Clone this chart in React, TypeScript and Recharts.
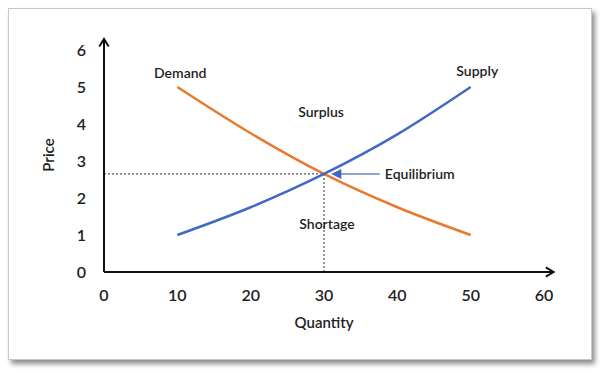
import { LineChart, Line, XAxis, YAxis, ReferenceLine, ReferenceDot } from "recharts";

const quantities = [10, 20, 30, 40, 50];
const supply = [1, 1.75, 2.65, 3.72, 5];
const demand = [5, 3.75, 2.65, 1.75, 1];
const xTicks = [0, 10, 20, 30, 40, 50, 60];
const yTicks = [0, 1, 2, 3, 4, 5, 6];
const equilibrium = { q: 30, p: 2.65 };
const notes = [
  { text: "Demand", q: 10.4, p: 5.4, anchor: "middle" },
  { text: "Supply", q: 50.9, p: 5.45, anchor: "middle" },
  { text: "Surplus", q: 29.6, p: 4.35, anchor: "middle" },
  { text: "Shortage", q: 30.4, p: 1.32, anchor: "middle" },
  { text: "Equilibrium", q: 38.3, p: 2.65, anchor: "start" },
];

const FONT = "Lato, 'Open Sans', sans-serif";
const INK = "#1e1e1e";
const WEIGHT = 600;

const data = quantities.map((q, i) => ({ q, supply: supply[i], demand: demand[i] }));

function AxisArrow(p: any) {
  const { x1, y1, x2, y2 } = p;
  const ang = Math.atan2(y2 - y1, x2 - x1);
  const len = 9;
  const a1 = ang + Math.PI - 0.55;
  const a2 = ang + Math.PI + 0.55;
  return (
    <g>
      <line x1={x1} y1={y1} x2={x2} y2={y2} stroke="#111" strokeWidth={2} />
      <polyline
        points={`${x2 + len * Math.cos(a1)},${y2 + len * Math.sin(a1)} ${x2},${y2} ${x2 + len * Math.cos(a2)},${y2 + len * Math.sin(a2)}`}
        fill="none"
        stroke="#111"
        strokeWidth={2}
      />
    </g>
  );
}

function PointerArrow(p: any) {
  const { x1, y1, x2, y2 } = p;
  return (
    <g>
      <line x1={x1} y1={y1} x2={x2 + 8} y2={y2} stroke="#8ea6d6" strokeWidth={2} />
      <polygon points={`${x2},${y2} ${x2 + 10},${y2 - 5} ${x2 + 10},${y2 + 5}`} fill="#3f66c4" />
    </g>
  );
}

function NoteText(text: string, anchor: string) {
  return (p: any) => (
    <text
      x={p.cx}
      y={p.cy}
      textAnchor={anchor as any}
      dominantBaseline="central"
      fontFamily={FONT}
      fontSize={14}
      fontWeight={WEIGHT}
      fill={INK}
    >
      {text}
    </text>
  );
}

function PriceLabel(p: any) {
  const vb = p.viewBox || {};
  const x = 48;
  const y = (vb.y ?? 50) + (vb.height ?? 222) / 2 - 6;
  return (
    <text
      x={x}
      y={y}
      transform={`rotate(-90 ${x} ${y})`}
      textAnchor="middle"
      dominantBaseline="central"
      fontFamily={FONT}
      fontSize={15}
      fontWeight={WEIGHT}
      fill={INK}
    >
      Price
    </text>
  );
}

export default function App() {
  return (
    <div style={{ position: "absolute", left: 0, top: 0, width: 600, height: 375, background: "#fff" }}>
      <div
        style={{
          position: "absolute",
          left: 8,
          top: 8,
          width: 582,
          height: 350,
          border: "1px solid #c8c8c8",
          boxShadow: "3px 4px 5px rgba(0,0,0,0.45)",
          background: "#fff",
        }}
      />
      <div style={{ position: "absolute", left: 0, top: 0 }}>
        <LineChart width={600} height={375} data={data} margin={{ top: 50, right: 56, left: 44, bottom: 73 }}>
          <XAxis
            type="number"
            dataKey="q"
            domain={[0, 60]}
            ticks={xTicks}
            axisLine={false}
            tickLine={false}
            height={30}
            tick={{ fontSize: 16, fontFamily: FONT, fill: INK, fontWeight: WEIGHT }}
            tickMargin={12}
            label={{
              value: "Quantity",
              position: "insideBottom",
              offset: -26,
              fontSize: 15,
              fontFamily: FONT,
              fill: INK,
              fontWeight: WEIGHT,
            }}
          />
          <YAxis
            type="number"
            domain={[0, 6]}
            ticks={yTicks}
            axisLine={false}
            tickLine={false}
            width={60}
            tick={{ fontSize: 16, fontFamily: FONT, fill: INK, fontWeight: WEIGHT }}
            tickMargin={12}
            label={{ content: PriceLabel }}
          />
          <ReferenceLine
            segment={[{ x: 0, y: equilibrium.p }, { x: equilibrium.q, y: equilibrium.p }]}
            stroke="#555"
            strokeDasharray="2 2"
            strokeWidth={1.2}
          />
          <ReferenceLine
            segment={[{ x: equilibrium.q, y: 0 }, { x: equilibrium.q, y: equilibrium.p }]}
            stroke="#555"
            strokeDasharray="2 2"
            strokeWidth={1.2}
          />
          <Line type="monotone" dataKey="demand" stroke="#e87a2f" strokeWidth={2.5} dot={false} isAnimationActive={false} />
          <Line type="monotone" dataKey="supply" stroke="#4169c6" strokeWidth={2.5} dot={false} isAnimationActive={false} />
          <ReferenceLine segment={[{ x: 0, y: 0 }, { x: 0, y: 6.3 }]} ifOverflow="visible" shape={AxisArrow} />
          <ReferenceLine segment={[{ x: 0, y: 0 }, { x: 61.3, y: 0 }]} ifOverflow="visible" shape={AxisArrow} />
          <ReferenceLine
            segment={[{ x: 37.6, y: equilibrium.p }, { x: 31, y: equilibrium.p }]}
            ifOverflow="visible"
            shape={PointerArrow}
          />
          {notes.map((n) => (
            <ReferenceDot
              key={n.text}
              x={n.q}
              y={n.p}
              r={0}
              ifOverflow="visible"
              shape={NoteText(n.text, n.anchor)}
            />
          ))}
        </LineChart>
      </div>
    </div>
  );
}
